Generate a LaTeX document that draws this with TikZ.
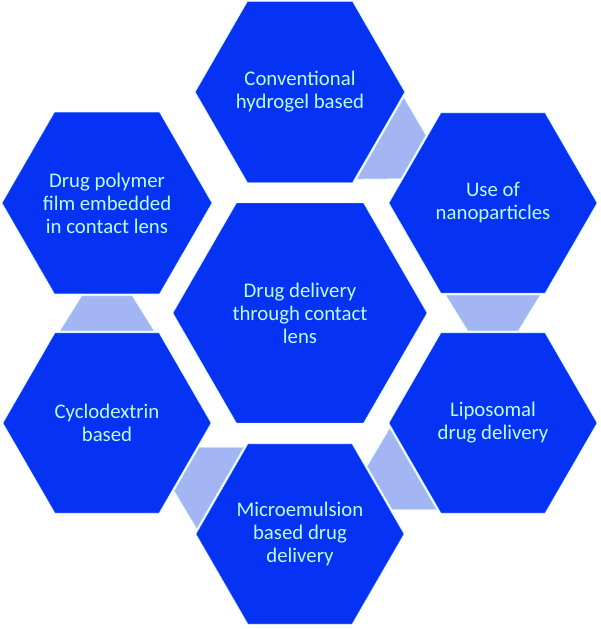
\documentclass[tikz,border=0pt]{standalone}
\usepackage{fontspec}
\setmainfont{Carlito}
\usepackage{xcolor}
\usepackage{tikz}
\usetikzlibrary{calc, shapes.geometric, positioning}
\definecolor{lensBlue}{HTML}{0632F4}
\definecolor{lensLink}{HTML}{A3B5F2}
\definecolor{lensEdge}{HTML}{BFEFFF}
\definecolor{lensText}{HTML}{B8FDEE}

\tikzset{
  hexcell/.style={regular polygon, regular polygon sides=6, minimum size=208pt,
                  inner sep=0pt, outer sep=0pt, fill=lensBlue, draw=lensEdge,
                  line width=0.4pt, text=lensText, align=center,
                  font=\fontsize{20.8}{23}\selectfont},
  hexcore/.style={hexcell, minimum size=254pt},
  hexlink/.style={fill=lensLink, draw=lensEdge, line width=0.5pt}
}

\begin{document}
\begin{tikzpicture}[x=1pt, y=-1pt]
    \useasboundingbox (0,0) rectangle (600,629);
    \node[hexcore] (core) at (300,313) {Drug delivery\\through contact\\lens};
    \node[hexcell] (hydrogel) at (300,92) {Conventional\\hydrogel based};
    \node[hexcell] (nano) at (493,203) {Use of\\nanoparticles};
    \node[hexcell] (lipo) at (493,423) {Liposomal\\drug delivery};
    \node[hexcell] (micro) at (300,534) {Microemulsion\\based drug\\delivery};
    \node[hexcell] (cyclo) at (107,423) {Cyclodextrin\\based};
    \node[hexcell] (film) at (107,203) {Drug polymer\\film embedded\\in contact lens};
    \foreach \a/\b/\t/\u in {hydrogel/nano/-30/150, nano/lipo/-90/90, lipo/micro/-150/30,
                             micro/cyclo/150/-30, cyclo/film/90/-90}
        \draw[hexlink] ($(\a.\t)+(\t:2pt)+(\t+90:47pt)$) -- ($(\a.\t)+(\t:2pt)+(\t-90:47pt)$)
            -- ($(\b.\u)+(\u:2pt)+(\t-90:25pt)$) -- ($(\b.\u)+(\u:2pt)+(\t+90:25pt)$) -- cycle;
\end{tikzpicture}
\end{document}
